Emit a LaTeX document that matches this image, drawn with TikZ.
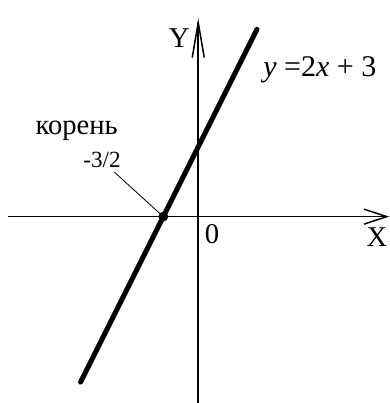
\documentclass[tikz,border=0pt]{standalone}
\usepackage{fontspec}
\setmainfont{Liberation Serif}
\usetikzlibrary{arrows.meta}

\begin{document}
\begin{tikzpicture}[x=0.6cm,y=0.6cm]
\tikzstyle{axis}=[black, line width=1.1pt]
\tikzstyle{graph}=[black, line width=3.7pt, line cap=round]
\tikzstyle{every node}+=[inner sep=0pt, font=\fontsize{21}{24}\selectfont]
\useasboundingbox (-8.51,-8) rectangle (8.23,9.3);
\coordinate (xl) at (-8.17,0);
\coordinate (xr) at (8.2,0);
\coordinate (yb) at (0,-8);
\coordinate (yt) at (0,8.52);
\coordinate (lb) at (-5.05,-7.1);
\coordinate (lt) at (2.52,8.04);
\coordinate (root) at (-1.5,0);
\coordinate (tick) at (-3.6,1.91);
\draw [axis, -{Straight Barb[length=16.8pt, width=11pt]}] (xl) -- (xr);
\draw [axis, -{Straight Barb[length=25.6pt, width=8.8pt]}] (yb) -- (yt);
\draw [graph] (lb) -- (lt);
\fill [black] (root) circle (0.21);
\draw (-0.82,7.66) node (ylab) {Y};
\draw (7.67,-0.87) node (xlab) {X};
\draw (0.59,-0.74) node (zero) {0};
\draw (5.22,6.3) node (eq) [font=\fontsize{22}{24}\selectfont] {\textit{y} =2\textit{x} + 3};
\draw (-5.22,3.68) node (koren) {корень};
\draw (-4.13,2.43) node (val) [font=\fontsize{17}{19}\selectfont] {-3/2};
\draw [black, line width=0.6pt] (tick) -- (root);
\end{tikzpicture}
\end{document}
